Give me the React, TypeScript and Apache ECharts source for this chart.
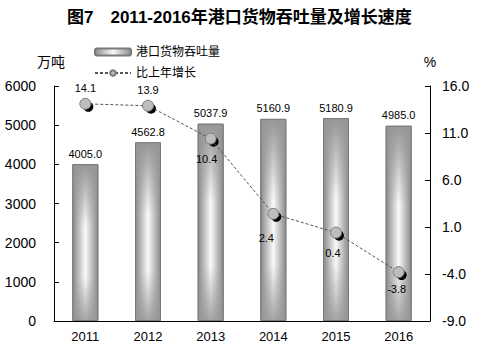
import React, { useEffect, useRef } from "react";
import * as echarts from "echarts";

const years = ["2011", "2012", "2013", "2014", "2015", "2016"];
const throughput = [4005.0, 4562.8, 5037.9, 5160.9, 5180.9, 4985.0];
const growth = [14.1, 13.9, 10.4, 2.4, 0.4, -3.8];
const rightTicks = [-9, -4, 1, 6, 11, 16];

const growthLabelPos = ["top", "top", "bottom", "bottom", "bottom", "bottom"];
const growthLabelOffset = [
  [0, 0],
  [0, 0],
  [-4, 5],
  [-7, 9],
  [-3, 5],
  [-2, 1],
];

const FONT = "'Liberation Sans', Arial, 'Noto Sans CJK SC', sans-serif";

export default function App() {
  const ref = useRef<HTMLDivElement>(null);
  useEffect(() => {
    if (!ref.current) return;
    const chart = echarts.init(ref.current, null, { renderer: "svg" });
    const barGrad = new echarts.graphic.LinearGradient(0, 0, 1, 0, [
      { offset: 0, color: "#8a8a8a" },
      { offset: 0.5, color: "#fafafa" },
      { offset: 1, color: "#8a8a8a" },
    ]);
    const vGrad = new echarts.graphic.LinearGradient(0, 0, 0, 1, [
      { offset: 0, color: "rgba(150,150,150,1)" },
      { offset: 0.4, color: "rgba(150,150,150,0)" },
      { offset: 0.72, color: "rgba(150,150,150,0)" },
      { offset: 1, color: "rgba(150,150,150,0.85)" },
    ]);
    chart.setOption({
      animation: false,
      textStyle: { fontFamily: FONT, color: "#000" },
      title: {
        text: "图7\u30002011-2016年港口货物吞吐量及增长速度",
        left: 62,
        top: 4,
        textStyle: { fontSize: 17, fontWeight: "bold", color: "#000", fontFamily: FONT },
      },
      legend: {
        data: ["港口货物吞吐量", "比上年增长"],
        orient: "vertical",
        left: 89,
        top: 41,
        itemWidth: 36,
        itemHeight: 7,
        itemGap: 9,
        textStyle: { fontSize: 12, color: "#000", fontFamily: FONT },
      },
      grid: { left: 54, right: 48, top: 86, bottom: 32 },
      xAxis: {
        type: "category",
        data: years,
        axisLine: { lineStyle: { color: "#000", width: 1 } },
        axisTick: { inside: true, length: 5, lineStyle: { color: "#000" } },
        axisLabel: { fontSize: 13, color: "#000", margin: 9, fontFamily: FONT },
      },
      yAxis: [
        {
          type: "value",
          min: 0,
          max: 6000,
          interval: 1000,
          name: "万吨",
          nameLocation: "end",
          nameGap: 17,
          nameTextStyle: { fontSize: 14, color: "#000", fontFamily: FONT, align: "center", padding: [0, 6, 0, 0] },
          axisLine: { show: true, lineStyle: { color: "#000" } },
          axisTick: { show: true, inside: true, length: 5, lineStyle: { color: "#000" } },
          axisLabel: {
            fontSize: 14,
            color: "#000",
            margin: 18,
            fontFamily: FONT,
            formatter: (v: number) => String(v),
          },
          splitLine: { show: false },
        },
        {
          type: "value",
          min: -9,
          max: 16,
          name: "%",
          nameLocation: "end",
          nameGap: 17,
          nameTextStyle: { fontSize: 14, color: "#000", fontFamily: FONT, align: "center" },
          axisLine: { show: true, lineStyle: { color: "#000" } },
          axisTick: { show: true, inside: true, length: 5, lineStyle: { color: "#000" }, customValues: rightTicks },
          axisLabel: {
            fontSize: 14,
            color: "#000",
            margin: 12,
            fontFamily: FONT,
            customValues: rightTicks,
            formatter: (v: number) => v.toFixed(1),
          },
          splitLine: { show: false },
        },
      ],
      series: [
        {
          name: "港口货物吞吐量",
          type: "bar",
          data: throughput,
          barWidth: 26,
          itemStyle: { color: barGrad, borderColor: "#7a7a7a", borderWidth: 1 },
          label: {
            show: true,
            position: "top",
            distance: 5,
            fontSize: 11,
            color: "#000",
            fontFamily: FONT,
            formatter: (p: any) => Number(p.value).toFixed(1),
          },
          z: 2,
        },
        {
          name: "overlay",
          type: "bar",
          data: throughput,
          barWidth: 26,
          barGap: "-100%",
          silent: true,
          itemStyle: { color: vGrad, borderColor: "#7a7a7a", borderWidth: 1 },
          z: 3,
        },
        {
          name: "shadow",
          type: "line",
          yAxisIndex: 1,
          data: growth,
          symbol: "circle",
          symbolSize: 10,
          symbolOffset: [3, 3],
          lineStyle: { opacity: 0 },
          itemStyle: { color: "#000" },
          silent: true,
          z: 4,
        },
        {
          name: "比上年增长",
          type: "line",
          yAxisIndex: 1,
          data: growth.map((v, i) => ({
            value: v,
            label: { position: growthLabelPos[i], offset: growthLabelOffset[i] },
          })),
          symbol: "circle",
          symbolSize: 11,
          lineStyle: { color: "#555", width: 1, type: [3, 2] },
          itemStyle: { color: "#bdbdbd", borderColor: "#7a7a7a", borderWidth: 1 },
          label: {
            show: true,
            distance: 4,
            fontSize: 11,
            color: "#000",
            fontFamily: FONT,
            formatter: (p: any) => Number(p.value).toFixed(1),
          },
          z: 5,
        },
      ],
    });
    return () => chart.dispose();
  }, []);
  return (
    <div
      ref={ref}
      style={{ position: "absolute", left: 0, top: 0, width: 478, height: 353, background: "#fff" }}
    />
  );
}
